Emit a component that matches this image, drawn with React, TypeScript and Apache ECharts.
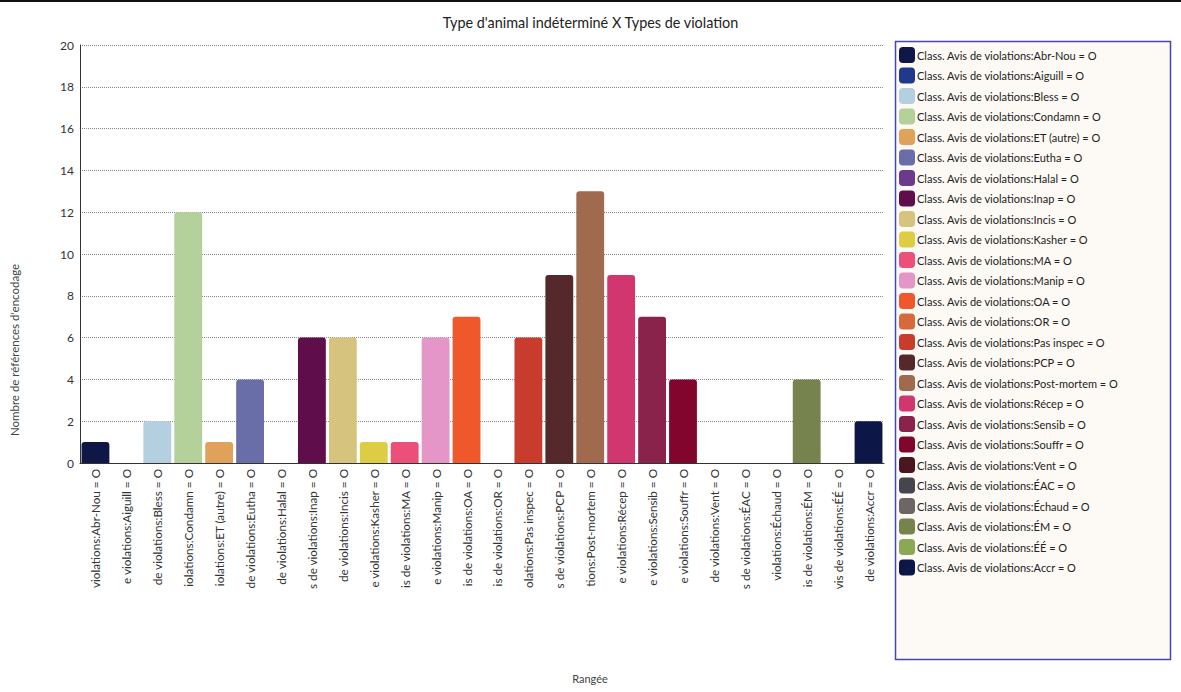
import React, { useEffect, useRef } from "react";
import * as echarts from "echarts";

const categories = [
  "Abr-Nou", "Aiguill", "Bless", "Condamn", "ET (autre)", "Eutha", "Halal", "Inap", "Incis",
  "Kasher", "MA", "Manip", "OA", "OR", "Pas inspec", "PCP", "Post-mortem", "Récep", "Sensib",
  "Souffr", "Vent", "ÉAC", "Échaud", "ÉM", "ÉÉ", "Accr",
];
const values = [1, 0, 2, 12, 1, 4, 0, 6, 6, 1, 1, 6, 7, 0, 6, 9, 13, 9, 7, 4, 0, 0, 0, 4, 0, 2];
const colors = [
  "#0e1746", "#1f3a8c", "#b4cfdf", "#b4d09b", "#e0a15a", "#6a6ea8", "#6d3a8b", "#600d4c",
  "#d6c47e", "#dccd45", "#ec4f7a", "#e396c7", "#ee582b", "#d8693a", "#c83c2e", "#55282b",
  "#a06a4f", "#d1366e", "#8a234b", "#82052d", "#4b1621", "#45454e", "#6d6664", "#76834e",
  "#8aa856", "#0c1747",
];
const labelPrefix = "Class. Avis de violations:";
const labelSuffix = " = O";
const title = "Type d'animal indéterminé X Types de violation";
const yName = "Nombre de références d'encodage";
const xName = "Rangée";

const FONT = "Lato, 'Noto Sans', sans-serif";

let measureCtx: CanvasRenderingContext2D | null = null;
function tailFit(s: string, maxW: number, font: string): string {
  if (!measureCtx) measureCtx = document.createElement("canvas").getContext("2d");
  if (!measureCtx) return s;
  measureCtx.font = font;
  let t = s;
  while (t.length > 0 && measureCtx.measureText(t).width > maxW) t = t.slice(1);
  return t;
}

export default function App() {
  const ref = useRef<HTMLDivElement>(null);
  useEffect(() => {
    document.body.style.margin = "0";
    if (!ref.current) return;
    const chart = echarts.init(ref.current, undefined, { renderer: "svg" });
    const fullLabels = categories.map((c) => labelPrefix + c + labelSuffix);
    const series = categories.map((c, i) => ({
      name: fullLabels[i],
      type: "bar",
      stack: "all",
      barCategoryGap: "10%",
      itemStyle: { color: colors[i], borderRadius: [3, 3, 0, 0] },
      data: categories.map((_, j) => (j === i ? values[i] : "-")),
    }));
    chart.setOption({
      animation: false,
      textStyle: { fontFamily: FONT },
      title: {
        text: title,
        left: "center",
        top: 10,
        textStyle: { fontFamily: FONT, fontSize: 14.4, fontWeight: "normal", color: "#222" },
      },
      grid: { left: 80, right: 297, top: 45, bottom: 229, containLabel: false },
      xAxis: {
        type: "category",
        data: fullLabels,
        axisLine: { lineStyle: { color: "#333", width: 1 } },
        axisTick: { show: false },
        axisLabel: {
          rotate: 90,
          margin: 6,
          interval: 0,
          fontSize: 11.7,
          color: "#333",
          fontFamily: FONT,
          formatter: (v: string) => tailFit(v, 121, `11.7px ${FONT}`),
        },
      },
      yAxis: {
        type: "value",
        min: 0,
        max: 20,
        interval: 2,
        axisLine: { show: true, lineStyle: { color: "#333", width: 1 } },
        axisTick: { show: false },
        axisLabel: { fontSize: 12, color: "#333", margin: 6, fontFamily: FONT },
        splitLine: { lineStyle: { type: "dotted", color: "#888", width: 1 } },
      },
      legend: {
        orient: "vertical",
        left: 899,
        top: 47,
        itemWidth: 16,
        itemHeight: 16,
        itemGap: 4.5,
        icon: "roundRect",
        selectedMode: false,
        padding: 0,
        z: 5,
        textStyle: { fontSize: 11, color: "#222", fontFamily: FONT, padding: [0, 0, 0, -3] },
        data: fullLabels,
      },
      graphic: [
        { type: "rect", z: 0, shape: { x: 0, y: 0, width: 1181, height: 2 }, style: { fill: "#111" } },
        {
          type: "rect",
          z: 0,
          shape: { x: 895.5, y: 41.5, width: 275, height: 618 },
          style: { fill: "#fdfaf5", stroke: "#4646b4", lineWidth: 1.5 },
        },
        {
          type: "text",
          x: 14,
          y: 350,
          rotation: Math.PI / 2,
          style: {
            text: yName,
            fill: "#444",
            font: `11.5px ${FONT}`,
            align: "center",
            verticalAlign: "middle",
          },
        },
        {
          type: "text",
          x: 590,
          y: 678,
          style: {
            text: xName,
            fill: "#444",
            font: `11px ${FONT}`,
            align: "center",
            verticalAlign: "middle",
          },
        },
      ],
      series,
    });
    return () => chart.dispose();
  }, []);
  return <div ref={ref} style={{ width: 1181, height: 692 }} />;
}
